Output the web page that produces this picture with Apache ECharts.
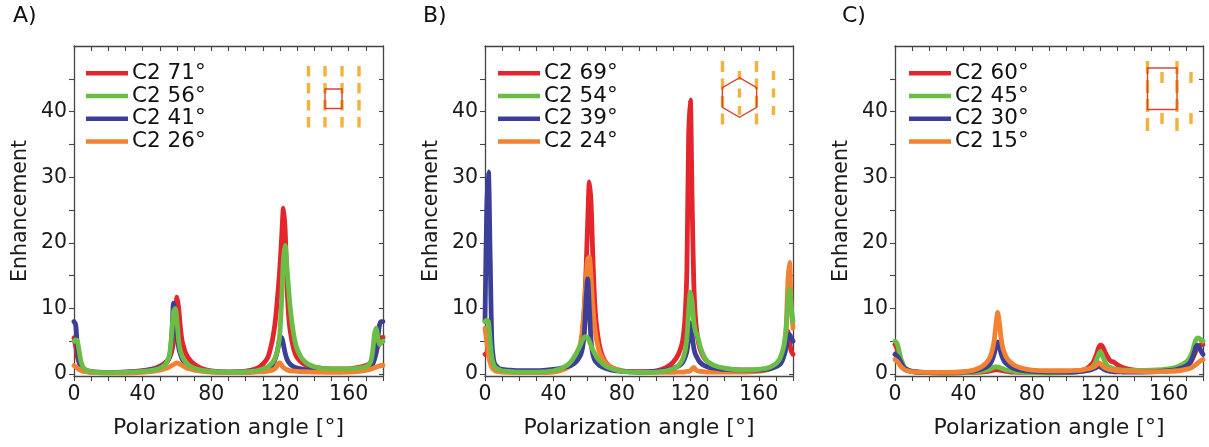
<!DOCTYPE html>
<html>
<head>
<meta charset="utf-8">
<script src="https://cdn.jsdelivr.net/npm/echarts@6/dist/echarts.min.js"></script>
<style>
  html, body { margin: 0; padding: 0; background: #fff; }
  #chart { width: 1209px; height: 447px; }
</style>
</head>
<body>
<div id="chart"></div>
<script>
// Polarization angles (degrees) at which every curve is sampled
const ANGLES = [0,1,2,3,4,5,6,8,10,14,20,30,40,46,50,53,55,
  56,57,58,59,60,61,62,63,64,65,67,70,74,80,90,100,106,110,113,
  115,116,117,118,119,120,121,122,123,124,125,126,128,130,134,140,150,160,166,170,172,
  173,174,175,176,177,178,179,180];

// Panel A – square arrangement
const A_RED_71 = [5.5,4.2,2.6,1.7,1.2,0.9,0.7,0.5,0.4,0.3,0.25,0.3,0.5,0.8,1.2,1.7,2.2,
  2.7,3.5,5.0,8.5,11.7,10.0,7.0,5.0,4.0,3.2,2.3,1.5,0.9,0.5,0.3,0.45,0.8,1.5,2.6,
  4.5,5.8,7.5,10.0,13.0,16.5,21.0,25.3,22.0,14.0,9.0,6.5,3.8,2.5,1.5,1.0,0.8,0.8,1.0,1.3,1.6,
  1.9,2.3,2.8,3.4,4.2,5.0,5.5,5.6];
const A_GREEN_56 = [5.0,5.2,5.0,3.5,2.0,1.2,0.8,0.5,0.35,0.25,0.2,0.25,0.4,0.6,0.9,1.4,2.3,
  3.5,6.5,9.5,10.0,8.0,5.0,3.5,2.7,2.2,1.8,1.3,0.9,0.6,0.4,0.3,0.35,0.5,0.75,1.1,
  1.6,1.9,2.4,3.1,4.3,6.5,11.5,17.5,19.6,16.5,13.0,10.0,6.0,3.8,2.0,1.1,0.8,0.8,0.9,1.1,1.5,
  2.0,3.5,6.0,7.0,5.5,4.5,4.8,5.0];
const A_BLUE_41 = [8.0,7.5,4.0,2.0,1.2,0.8,0.6,0.4,0.3,0.25,0.25,0.3,0.45,0.7,1.0,1.5,2.2,
  3.2,6.0,10.8,9.5,6.0,4.0,3.0,2.3,1.9,1.6,1.2,0.8,0.5,0.35,0.3,0.35,0.5,0.65,0.8,
  1.2,1.6,2.2,3.0,4.2,5.5,5.6,4.5,3.2,2.3,1.8,1.5,1.1,0.9,0.7,0.6,0.5,0.55,0.7,0.85,1.0,
  1.2,1.5,2.2,3.2,5.5,7.5,8.0,8.0];
const A_ORANGE_26 = [1.3,1.1,0.9,0.7,0.55,0.45,0.4,0.3,0.25,0.2,0.15,0.15,0.25,0.4,0.6,0.8,1.0,
  1.15,1.3,1.45,1.6,1.7,1.6,1.45,1.3,1.15,1.0,0.8,0.6,0.45,0.3,0.2,0.2,0.3,0.35,0.45,
  0.55,0.65,0.8,1.1,1.6,1.7,1.3,1.0,0.8,0.65,0.55,0.5,0.45,0.4,0.35,0.3,0.25,0.3,0.4,0.55,0.65,
  0.75,0.85,0.95,1.05,1.15,1.25,1.3,1.3];

// Panel B – hexagonal arrangement
const B_RED_69 = [3.0,3.2,3.0,2.0,1.3,0.9,0.7,0.5,0.4,0.35,0.3,0.3,0.5,0.9,1.3,2.0,3.2,
  4.3,6.3,9.8,15.5,23.0,29.3,26.0,18.0,11.5,7.8,4.2,2.0,1.0,0.5,0.35,0.5,1.0,1.8,3.0,
  4.5,6.0,9.0,16.0,36.0,41.8,27.0,14.0,8.5,6.0,4.5,3.6,2.5,1.9,1.2,0.8,0.6,0.6,0.8,1.2,1.6,
  2.0,2.6,3.5,5.0,6.5,5.0,3.5,3.0];
const B_GREEN_54 = [8.0,8.2,8.0,5.0,2.5,1.5,1.0,0.7,0.5,0.4,0.3,0.3,0.5,1.0,1.8,3.0,4.0,
  4.6,5.2,5.6,5.7,5.5,5.0,4.3,3.7,3.2,2.7,2.0,1.3,0.8,0.4,0.25,0.3,0.5,0.8,1.3,
  2.0,2.6,3.6,5.5,9.5,12.5,11.0,8.0,6.5,6.0,5.0,4.0,2.7,1.9,1.3,0.9,0.6,0.7,1.0,1.6,2.2,
  2.8,3.6,4.8,7.0,11.0,13.0,10.0,8.0];
const B_BLUE_39 = [8.0,25.0,30.8,18.0,5.0,2.2,1.4,0.9,0.7,0.6,0.5,0.5,0.7,1.0,1.3,1.8,2.5,
  3.0,4.0,6.0,11.0,14.5,10.0,5.0,3.0,2.2,1.8,1.3,0.9,0.6,0.4,0.3,0.4,0.6,0.9,1.2,
  1.6,2.0,2.6,3.5,5.5,7.8,6.0,4.0,3.0,2.5,2.0,1.7,1.3,1.1,0.9,0.7,0.6,0.6,0.8,1.1,1.4,
  1.7,2.2,3.0,4.0,5.5,6.0,5.5,5.0];
const B_ORANGE_24 = [7.0,5.0,3.0,1.8,1.0,0.7,0.5,0.35,0.3,0.25,0.2,0.2,0.3,0.7,1.3,2.3,3.8,
  5.0,7.0,10.0,14.0,17.5,17.8,14.5,10.5,7.5,5.5,3.3,1.8,1.0,0.5,0.3,0.25,0.25,0.25,0.3,
  0.3,0.3,0.35,0.4,0.4,0.5,0.8,1.0,0.7,0.5,0.4,0.4,0.35,0.3,0.3,0.3,0.3,0.4,0.7,1.2,1.8,
  2.3,3.0,4.2,7.0,14.0,17.0,10.0,7.0];

// Panel C – rectangular arrangement
const C_RED_60 = [4.5,4.0,3.0,2.0,1.4,1.0,0.75,0.5,0.35,0.25,0.2,0.15,0.2,0.25,0.3,0.35,0.45,
  0.5,0.55,0.6,0.65,0.65,0.6,0.55,0.5,0.45,0.4,0.35,0.3,0.25,0.2,0.2,0.25,0.4,0.6,1.0,
  1.5,1.9,2.5,3.2,4.0,4.4,4.3,3.8,3.2,2.7,2.3,2.0,1.8,1.4,0.9,0.6,0.5,0.6,0.8,1.2,1.6,
  1.9,2.4,3.0,3.6,4.0,4.3,4.5,4.5];
const C_GREEN_45 = [5.0,4.8,4.0,2.8,1.9,1.3,0.9,0.6,0.45,0.3,0.2,0.15,0.2,0.3,0.4,0.55,0.7,
  0.8,0.95,1.05,1.1,1.1,1.0,0.9,0.8,0.7,0.6,0.5,0.4,0.3,0.2,0.15,0.2,0.3,0.45,0.7,
  1.0,1.3,1.7,2.3,3.0,3.4,3.0,2.3,1.7,1.3,1.1,1.0,0.8,0.7,0.6,0.55,0.6,0.8,1.2,1.8,2.4,
  2.9,3.6,4.6,5.3,5.5,5.4,5.2,5.0];
const C_BLUE_30 = [3.0,2.8,2.5,2.0,1.5,1.1,0.8,0.55,0.4,0.3,0.25,0.25,0.3,0.45,0.7,1.0,1.4,
  1.7,2.3,3.1,4.2,4.9,4.2,3.1,2.4,1.9,1.6,1.2,0.8,0.55,0.4,0.3,0.3,0.35,0.45,0.55,
  0.7,0.8,0.9,1.05,1.2,1.1,0.9,0.75,0.6,0.5,0.45,0.4,0.35,0.35,0.3,0.3,0.35,0.5,0.8,1.2,1.6,
  2.0,2.6,3.4,4.2,4.4,4.0,3.4,3.0];
const C_ORANGE_15 = [2.2,2.0,1.7,1.3,1.0,0.8,0.6,0.45,0.35,0.3,0.25,0.25,0.35,0.6,1.0,1.6,2.3,
  2.9,3.8,5.2,7.5,9.4,7.8,5.5,4.0,3.2,2.6,1.9,1.3,0.9,0.6,0.5,0.5,0.55,0.65,0.8,
  0.95,1.05,1.2,1.45,1.7,1.6,1.3,1.05,0.9,0.8,0.7,0.65,0.55,0.5,0.45,0.4,0.35,0.4,0.5,0.7,0.85,
  0.95,1.1,1.25,1.45,1.7,1.9,2.1,2.2];

// Axis ticks and labels
const X_LABELS = [0, 40, 80, 120, 160];
const X_TICKS = [0,10,20,30,40,50,60,70,80,90,100,110,120,130,140,150,160,170,180];
const Y_LABELS = [0, 10, 20, 30, 40];
const Y_TICKS = [0,5,10,15,20,25,30,35,40,45];

const PANEL_TITLES = ['A)', 'B)', 'C)'];
const X_NAME = 'Polarization angle [°]';
const Y_NAME = 'Enhancement';

const COLORS = { red: '#E4252B', green: '#6CBD45', blue: '#3B3F97', orange: '#F28231' };
const FONT = '"DejaVu Sans", "Open Sans", sans-serif';

// Series per panel: legend order is red, green, blue, orange; draw order set by `draw`
const PANELS = [
  { title: PANEL_TITLES[0],
    series: [
      { name: 'C2 71°', values: A_RED_71, color: COLORS.red },
      { name: 'C2 56°', values: A_GREEN_56, color: COLORS.green },
      { name: 'C2 41°', values: A_BLUE_41, color: COLORS.blue },
      { name: 'C2 26°', values: A_ORANGE_26, color: COLORS.orange }
    ], draw: [0, 2, 3, 1] },
  { title: PANEL_TITLES[1],
    series: [
      { name: 'C2 69°', values: B_RED_69, color: COLORS.red },
      { name: 'C2 54°', values: B_GREEN_54, color: COLORS.green },
      { name: 'C2 39°', values: B_BLUE_39, color: COLORS.blue },
      { name: 'C2 24°', values: B_ORANGE_24, color: COLORS.orange }
    ], draw: [0, 3, 2, 1] },
  { title: PANEL_TITLES[2],
    series: [
      { name: 'C2 60°', values: C_RED_60, color: COLORS.red },
      { name: 'C2 45°', values: C_GREEN_45, color: COLORS.green },
      { name: 'C2 30°', values: C_BLUE_30, color: COLORS.blue },
      { name: 'C2 15°', values: C_ORANGE_15, color: COLORS.orange }
    ], draw: [0, 1, 2, 3] }
];

// Layout of the three plot frames
const FRAMES = [
  { left: 74, top: 46, width: 309, height: 330, titleX: 13, legendX: 86 },
  { left: 485, top: 46, width: 308, height: 330, titleX: 423, legendX: 498 },
  { left: 895, top: 46, width: 308, height: 330, titleX: 842, legendX: 909 }
];

const Y_MIN = -0.3, Y_MAX = 50;
const AXIS_COLOR = '#454545';

const option = {
  animation: false,
  backgroundColor: '#fff',
  textStyle: { fontFamily: FONT },
  title: [], legend: [], grid: [], xAxis: [], yAxis: [], series: []
};

PANELS.forEach((p, i) => {
  const f = FRAMES[i];
  option.title.push({
    text: p.title, left: f.titleX, top: 5, padding: 0,
    textStyle: { fontSize: 22, fontWeight: 'normal', color: '#111', fontFamily: FONT }
  });
  option.grid.push({ left: f.left, top: f.top, width: f.width, height: f.height, outerBoundsMode: 'none' });
  option.legend.push({
    orient: 'vertical', left: f.legendX, top: 62, padding: 0,
    icon: 'rect', itemWidth: 42, itemHeight: 4.5, itemGap: 0,
    textStyle: { fontSize: 21.5, lineHeight: 22.7, color: '#111', fontFamily: FONT, padding: [0, 0, 0, -1] },
    data: p.series.map(s => s.name)
  });
  const tickStyle = { color: AXIS_COLOR, width: 1.1 };
  const lineStyle = { color: AXIS_COLOR, width: 1.3 };
  // bottom axis with labels
  option.xAxis.push({
    type: 'value', gridIndex: i, position: 'bottom', min: 0, max: 180,
    axisLine: { show: true, onZero: false, lineStyle },
    axisTick: { show: true, inside: false, length: 5, customValues: X_TICKS, lineStyle: tickStyle },
    axisLabel: { customValues: X_LABELS, fontSize: 20.5, color: '#1a1a1a', margin: 8, fontFamily: FONT },
    splitLine: { show: false },
    name: X_NAME, nameLocation: 'middle', nameGap: 41,
    nameTextStyle: { fontSize: 22, color: '#1a1a1a', fontFamily: FONT }
  });
  // top mirror axis
  option.xAxis.push({
    type: 'value', gridIndex: i, position: 'top', min: 0, max: 180,
    axisLine: { show: true, onZero: false, lineStyle },
    axisTick: { show: true, inside: true, length: 5, customValues: X_TICKS, lineStyle: tickStyle },
    axisLabel: { show: false }, splitLine: { show: false }
  });
  // left axis with labels
  option.yAxis.push({
    type: 'value', gridIndex: i, position: 'left', min: Y_MIN, max: Y_MAX,
    axisLine: { show: true, onZero: false, lineStyle },
    axisTick: { show: true, inside: false, length: 5, customValues: Y_TICKS, lineStyle: tickStyle },
    axisLabel: { customValues: Y_LABELS, fontSize: 20.5, color: '#1a1a1a', margin: 7, fontFamily: FONT },
    splitLine: { show: false },
    name: Y_NAME, nameLocation: 'middle', nameGap: 43,
    nameTextStyle: { fontSize: 20.5, color: '#1a1a1a', fontFamily: FONT }
  });
  // right mirror axis
  option.yAxis.push({
    type: 'value', gridIndex: i, position: 'right', min: Y_MIN, max: Y_MAX,
    axisLine: { show: true, onZero: false, lineStyle },
    axisTick: { show: true, inside: true, length: 4, customValues: Y_TICKS, lineStyle: tickStyle },
    axisLabel: { show: false }, splitLine: { show: false }
  });
  p.draw.forEach(k => {
    const s = p.series[k];
    option.series.push({
      type: 'line', name: s.name,
      xAxisIndex: i * 2, yAxisIndex: i * 2,
      data: ANGLES.map((a, j) => [a, s.values[j]]),
      showSymbol: false, symbol: 'none', smooth: 0.25,
      color: s.color,
      lineStyle: { color: s.color, width: 4.8, join: 'round', cap: 'round' },
      itemStyle: { color: s.color },
      clip: true
    });
  });
});

// Schematic insets showing nanorod arrangements around the dimer
const DASH = '#F2B23C', OUTLINE = '#D8452C';
function dashed(x, y1, y2, dash) {
  return { type: 'line', shape: { x1: x, y1: y1, x2: x, y2: y2 },
    style: { stroke: DASH, lineWidth: 3.4, lineDash: dash }, z: 100 };
}
const insets = [];
// square
[308.5, 325, 342, 359].forEach(x => insets.push(dashed(x, 66, 130, [10.5, 6.5])));
insets.push({ type: 'rect', shape: { x: 325, y: 89, width: 17, height: 19.5 },
  style: { fill: 'none', stroke: OUTLINE, lineWidth: 1.4 }, z: 101 });
// hexagon
[722.5, 756.5].forEach(x => insets.push(dashed(x, 61, 131, [11, 6.5])));
[739.5, 773.5].forEach(x => insets.push(dashed(x, 71, 123, [9, 8.5])));
const hex = [];
for (let k = 0; k < 6; k++) {
  const ang = -Math.PI / 2 + k * Math.PI / 3;
  hex.push([739.5 + 19.8 * Math.cos(ang), 97.5 + 19.8 * Math.sin(ang)]);
}
insets.push({ type: 'polygon', shape: { points: hex },
  style: { fill: 'none', stroke: OUTLINE, lineWidth: 1.4 }, z: 101 });
// rectangle
[1147.5, 1177].forEach(x => insets.push(dashed(x, 61, 135, [13, 6])));
[1162, 1191].forEach(x => insets.push(dashed(x, 72, 125, [11, 30])));
insets.push({ type: 'rect', shape: { x: 1147.5, y: 68, width: 29.5, height: 41.5 },
  style: { fill: 'none', stroke: OUTLINE, lineWidth: 1.4 }, z: 101 });
option.graphic = insets;

const chart = echarts.init(document.getElementById('chart'), null, { renderer: 'canvas' });
chart.setOption(option);
</script>
</body>
</html>
